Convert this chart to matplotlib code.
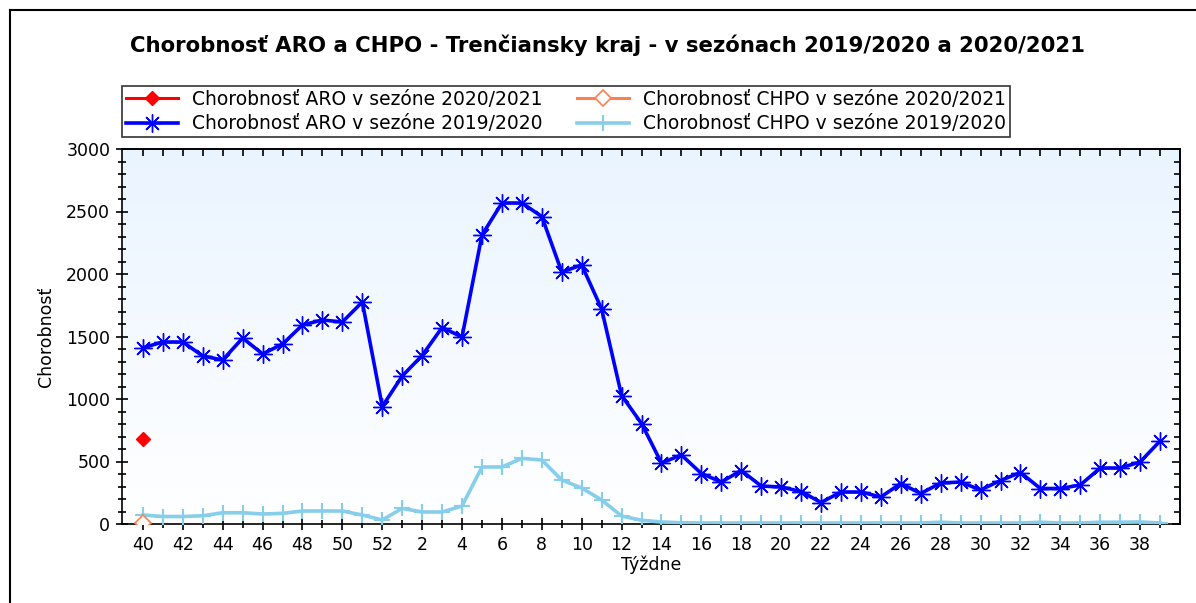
import numpy as np
import matplotlib
matplotlib.use("Agg")
import matplotlib.pyplot as plt
from matplotlib.lines import Line2D
from matplotlib.ticker import MultipleLocator, FixedLocator

# ---- data ----
weeks = list(range(40, 53)) + list(range(1, 40))
tick_labels = [str(w) for w in weeks]

aro_2019 = [1410, 1456, 1456, 1344, 1312, 1488, 1360, 1440, 1592, 1632,
            1616, 1776, 940, 1184, 1348, 1572, 1496, 2312, 2568, 2568,
            2460, 2016, 2072, 1720, 1028, 804, 488, 552, 404, 336,
            428, 304, 296, 260, 172, 256, 256, 216, 324, 244,
            328, 336, 272, 348, 412, 284, 284, 312, 448, 448,
            496, 664]
chpo_2019 = [72, 60, 60, 66, 90, 90, 80, 85, 104, 104,
             104, 72, 32, 125, 96, 96, 144, 456, 456, 525,
             512, 352, 288, 192, 64, 30, 16, 10, 8, 8,
             8, 8, 8, 8, 8, 8, 8, 8, 8, 8,
             14, 8, 8, 8, 8, 14, 8, 8, 14, 14,
             16, 8]
aro_2020 = [680]
chpo_2020 = [5]

labels = ["Chorobnosť ARO v sezóne 2020/2021",
          "Chorobnosť ARO v sezóne 2019/2020",
          "Chorobnosť CHPO v sezóne 2020/2021",
          "Chorobnosť CHPO v sezóne 2019/2020"]

W, H = 1196, 603
fig = plt.figure(figsize=(W / 100, H / 100), dpi=100)
plt.rcParams['font.family'] = ['DejaVu Sans']

# outer frame (left and top visible)
fig.add_artist(Line2D([10 / W, 10 / W], [0, 1 - 10 / H], color='black', lw=1.5,
                      transform=fig.transFigure))
fig.add_artist(Line2D([10 / W, 1], [1 - 10 / H, 1 - 10 / H], color='black', lw=1.5,
                      transform=fig.transFigure))

L, R, T, B = 122, 1180, 149, 524
ax = fig.add_axes([L / W, 1 - B / H, (R - L) / W, (B - T) / H])

x = np.arange(len(weeks))
ax.set_xlim(-1.05, 52.0)
ax.set_ylim(0, 3000)

# gradient background
grad = np.linspace(0, 1, 256).reshape(-1, 1)
top_c = np.array([234, 244, 255]) / 255.0
bot_c = np.array([255, 255, 255]) / 255.0
img = (bot_c[None, None, :] * (1 - grad[:, :, None]) + top_c[None, None, :] * grad[:, :, None])
ax.imshow(img, extent=[-1.05, 52.0, 0, 3000], origin='lower', aspect='auto', zorder=0)

star8 = (8, 2, 0)
l_red, = ax.plot(x[:len(aro_2020)], aro_2020, color='#FF0000', lw=2.2, marker='D',
                 markersize=7, zorder=5, clip_on=False)
l_blue, = ax.plot(x, aro_2019, color='#0000FF', lw=2.6, marker=star8, markersize=13,
                  markeredgewidth=1.0, zorder=4)
l_orange, = ax.plot(x[:len(chpo_2020)], chpo_2020, color='#FF7F50', lw=2.2, marker='D',
                    markersize=8, markerfacecolor='white', markeredgewidth=1.2, zorder=5,
                    clip_on=True)
l_light, = ax.plot(x, chpo_2019, color='#87CEEB', lw=2.6, marker='+', markersize=12,
                   markeredgewidth=1.5, zorder=3)

# ticks
ax.xaxis.set_major_locator(FixedLocator(x[::2]))
ax.set_xticklabels(tick_labels[::2])
ax.xaxis.set_minor_locator(FixedLocator(x[1::2]))
ax.yaxis.set_major_locator(MultipleLocator(500))
ax.yaxis.set_minor_locator(MultipleLocator(100))
ax.tick_params(axis='both', which='major', direction='inout', length=9, width=1.2,
               labelsize=12.5, colors='black', pad=4)
ax.tick_params(axis='both', which='minor', direction='inout', length=6, width=1.2)

secx = ax.secondary_xaxis('top')
secx.xaxis.set_major_locator(FixedLocator(x))
secx.tick_params(direction='in', length=5, width=1.2, labeltop=False)
secy = ax.secondary_yaxis('right')
secy.yaxis.set_major_locator(MultipleLocator(500))
secy.yaxis.set_minor_locator(MultipleLocator(100))
secy.tick_params(which='major', direction='in', length=6, width=1.2, labelright=False)
secy.tick_params(which='minor', direction='in', length=4, width=1.2)

for sp in list(ax.spines.values()) + list(secx.spines.values()) + list(secy.spines.values()):
    sp.set_linewidth(1.2)

ax.set_xlabel("Týždne", fontsize=12.5, labelpad=1)
ax.set_ylabel("Chorobnosť", fontsize=12.5, labelpad=8)

fig.text(608 / W, 1 - 45 / H,
         "Chorobnosť ARO a CHPO - Trenčiansky kraj - v sezónach 2019/2020 a 2020/2021",
         ha='center', va='center', fontsize=15.3, fontweight='bold')

leg = fig.legend([l_red, l_blue, l_orange, l_light], labels, ncol=2,
                 loc='upper left', bbox_to_anchor=(122 / W, 1 - 86 / H),
                 fontsize=13.5, frameon=True, fancybox=False, edgecolor='black',
                 handlelength=2.8, handletextpad=0.75, columnspacing=1.8,
                 labelspacing=0.3, borderpad=0.2, borderaxespad=0)
leg.get_frame().set_linewidth(1.2)

fig.savefig("out.png", dpi=100)
